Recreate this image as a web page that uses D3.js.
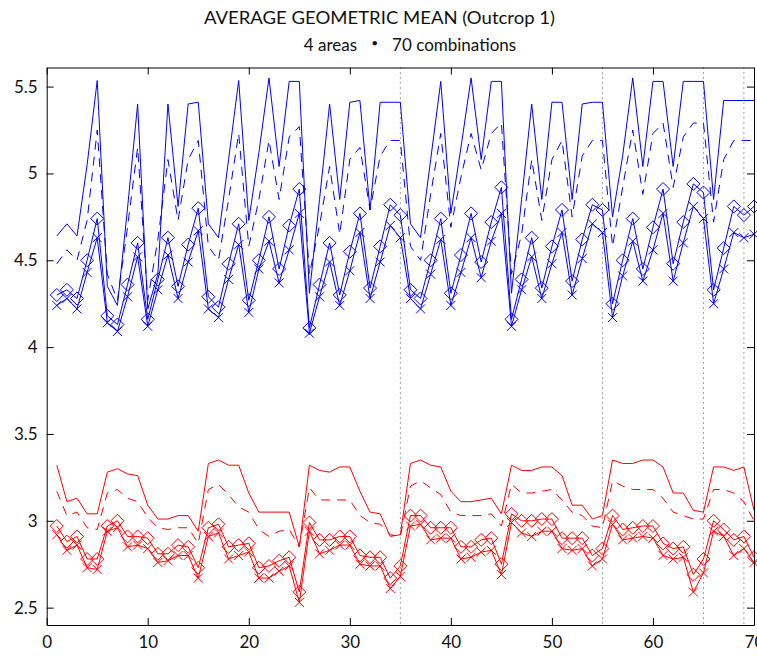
<!DOCTYPE html>
<html>
<head>
<meta charset="utf-8">
<script src="https://cdn.jsdelivr.net/npm/d3@7"></script>
<style>
  body { margin: 0; background: #fff; }
  svg { display: block; }
</style>
</head>
<body>
<svg id="chart" width="757" height="659"></svg>
<script>
// Combination index 1..70 (4 areas chosen out of 8)
const combos = d3.range(1, 71);

// Blue group
const blueSolid = [4.64,4.71,4.64,5.05,5.535,4.35,4.24,4.80,5.40,4.22,4.42,5.40,4.81,5.40,5.41,4.71,4.63,5.08,5.535,4.73,
  5.12,5.55,5.04,5.53,5.53,4.31,4.85,5.40,4.85,5.41,5.42,4.79,5.41,5.41,5.41,4.71,4.63,5.08,5.53,4.77,
  5.15,5.55,5.08,5.53,5.53,4.31,4.85,5.40,4.85,5.41,5.41,4.85,5.40,5.41,5.41,4.75,5.10,5.55,5.04,5.53,
  5.53,5.04,5.53,5.53,5.53,4.85,5.42,5.42,5.42,5.42];
const blueDash = [4.48,4.56,4.50,4.73,5.25,4.42,4.27,4.69,5.15,4.27,4.62,5.08,4.73,5.08,5.19,4.58,4.50,4.85,5.23,4.58,
  4.85,5.19,4.85,5.21,5.27,4.42,4.70,5.04,4.65,5.08,5.15,4.79,5.10,5.19,5.19,4.58,4.50,4.88,5.23,4.69,
  4.98,5.23,5.02,5.23,5.29,4.42,4.65,5.08,4.73,5.08,5.19,4.75,5.10,5.19,5.19,4.58,4.92,5.25,4.88,5.23,
  5.29,4.92,5.21,5.29,5.29,4.72,5.08,5.19,5.19,5.19];
const blueDiamond = [4.30,4.33,4.28,4.50,4.74,4.18,4.13,4.36,4.60,4.16,4.39,4.63,4.35,4.59,4.80,4.29,4.23,4.48,4.71,4.27,
  4.50,4.75,4.45,4.70,4.91,4.11,4.36,4.60,4.30,4.55,4.77,4.34,4.58,4.82,4.76,4.33,4.28,4.50,4.74,4.31,
  4.53,4.77,4.49,4.72,4.92,4.16,4.39,4.63,4.34,4.58,4.79,4.38,4.62,4.82,4.79,4.25,4.50,4.74,4.45,4.69,
  4.91,4.48,4.72,4.94,4.89,4.33,4.57,4.81,4.76,4.81];
const blueCross = [4.24,4.28,4.22,4.43,4.63,4.14,4.09,4.29,4.52,4.12,4.33,4.53,4.28,4.49,4.67,4.22,4.17,4.39,4.59,4.20,
  4.45,4.61,4.37,4.56,4.77,4.08,4.29,4.49,4.24,4.44,4.66,4.28,4.49,4.70,4.63,4.28,4.22,4.42,4.62,4.24,
  4.43,4.63,4.40,4.61,4.77,4.12,4.33,4.52,4.28,4.48,4.66,4.30,4.51,4.71,4.66,4.17,4.41,4.61,4.38,4.56,
  4.77,4.38,4.60,4.81,4.74,4.25,4.45,4.66,4.63,4.65];

// Red group
const redSolid = [3.32,3.11,3.13,3.04,3.04,3.28,3.30,3.27,3.26,3.09,3.01,3.01,3.03,3.03,2.94,3.33,3.35,3.32,3.32,3.16,
  3.05,3.05,3.05,3.05,2.85,3.32,3.29,3.28,3.31,3.31,3.17,3.05,3.04,2.91,2.92,3.33,3.35,3.32,3.31,3.17,
  3.11,3.11,3.12,3.13,3.04,3.32,3.29,3.29,3.31,3.31,3.26,3.09,3.09,3.01,3.03,3.35,3.33,3.33,3.35,3.35,
  3.31,3.16,3.16,3.06,3.05,3.31,3.31,3.29,3.31,3.06];
const redDash = [3.17,3.03,3.05,2.96,2.95,3.16,3.18,3.13,3.11,3.02,2.96,2.95,2.96,2.96,2.87,3.18,3.21,3.15,3.08,3.05,
  2.95,2.91,2.94,2.95,2.85,3.19,3.12,3.12,3.12,3.12,3.03,2.99,2.98,2.92,2.91,3.20,3.23,3.19,3.15,3.05,
  3.03,3.03,3.03,3.04,2.97,3.21,3.16,3.16,3.17,3.18,3.12,3.05,3.03,2.97,2.96,3.23,3.20,3.18,3.18,3.18,
  3.13,3.05,3.03,3.01,3.01,3.18,3.18,3.16,3.11,3.00];
const redDiamond = [2.97,2.88,2.91,2.78,2.78,2.97,3.00,2.91,2.91,2.90,2.81,2.81,2.86,2.85,2.73,2.96,2.98,2.85,2.86,2.87,
  2.73,2.74,2.77,2.79,2.59,2.99,2.89,2.89,2.91,2.91,2.80,2.79,2.79,2.67,2.74,3.03,3.03,2.96,2.96,2.96,
  2.85,2.85,2.89,2.90,2.75,3.04,3.00,3.00,3.01,3.01,2.90,2.90,2.90,2.80,2.84,3.03,2.95,2.96,2.97,2.97,
  2.87,2.84,2.85,2.69,2.78,3.00,2.95,2.89,2.91,2.79];
const redCross = [2.92,2.83,2.86,2.73,2.72,2.94,2.96,2.85,2.86,2.84,2.76,2.77,2.80,2.80,2.67,2.91,2.93,2.78,2.80,2.82,
  2.67,2.67,2.71,2.74,2.53,2.94,2.81,2.83,2.86,2.86,2.75,2.74,2.74,2.61,2.68,2.97,2.98,2.89,2.90,2.90,
  2.78,2.79,2.82,2.83,2.69,2.99,2.93,2.91,2.94,2.94,2.84,2.83,2.84,2.74,2.78,2.98,2.89,2.90,2.91,2.90,
  2.80,2.78,2.79,2.59,2.70,2.94,2.91,2.80,2.84,2.76];

// Boundaries between groups of combinations sharing the same first area
const groupBreaks = [35, 55, 65, 69];

const xTicks = [0, 10, 20, 30, 40, 50, 60, 70];
const yTicks = [2.5, 3, 3.5, 4, 4.5, 5, 5.5];

const titleMain = "AVERAGE GEOMETRIC MEAN (Outcrop 1)";
const subtitleParts = ["4 areas", "\u2022", "70 combinations"];

const BLUE = "#0000ff", RED = "#ff0000";
const DASH = "9,7";
const series = [
  { values: blueSolid,   color: BLUE, dash: null, marker: null },
  { values: blueDash,    color: BLUE, dash: DASH, marker: null },
  { values: blueDiamond, color: BLUE, dash: null, marker: "diamond" },
  { values: blueCross,   color: BLUE, dash: null, marker: "cross" },
  { values: redSolid,    color: RED,  dash: null, marker: null },
  { values: redDash,     color: RED,  dash: DASH, marker: null },
  { values: redDiamond,  color: RED,  dash: null, marker: "diamond" },
  { values: redCross,    color: RED,  dash: null, marker: "cross" }
];

const svg = d3.select("#chart");
const box = { left: 46.7, right: 754, top: 67.5, bottom: 625 };

const x = d3.scaleLinear().domain([0, 70]).range([box.left, box.right]);
const y = d3.scaleLinear().domain([2.4, 5.61]).range([box.bottom, box.top]);

const FONT = "Lato, 'Open Sans', sans-serif";

// Title, two lines
const gTitle = svg.append("g")
  .attr("font-family", FONT).attr("font-size", 17).attr("fill", "#111");
gTitle.append("text")
  .attr("x", 204).attr("y", 24)
  .attr("textLength", 351).attr("lengthAdjust", "spacingAndGlyphs")
  .text(titleMain);

// Second line: pieces laid out side by side, the bullet raised a little
const subParts = gTitle.selectAll("text.sub").data(subtitleParts).join("text")
  .attr("class", "sub")
  .attr("y", (d, i) => i === 1 ? 47 : 51)
  .attr("font-size", (d, i) => i === 1 ? 12 : 17)
  .text(d => d);
const widths = subParts.nodes().map(n => n.getComputedTextLength());
const gap = 14;
const total = d3.sum(widths) + gap * 2;
let cursor = 410 - total / 2;
subParts.each(function(d, i) {
  d3.select(this).attr("x", cursor);
  cursor += widths[i] + gap;
});

// Group boundary markers
svg.append("g").selectAll("line").data(groupBreaks).join("line")
  .attr("x1", d => x(d)).attr("x2", d => x(d))
  .attr("y1", box.top).attr("y2", box.bottom)
  .attr("stroke", "#444").attr("stroke-width", 1)
  .attr("stroke-dasharray", "1,4");

// Series lines and markers
const line = d3.line().x((d, i) => x(combos[i])).y(d => y(d));
const gSeries = svg.append("g").attr("fill", "none");
series.forEach(s => {
  gSeries.append("path")
    .attr("d", line(s.values))
    .attr("stroke", s.color).attr("stroke-width", 1)
    .attr("stroke-dasharray", s.dash);
  if (s.marker) {
    const r = s.marker === "diamond" ? 6.5 : 4.5;
    const shape = s.marker === "diamond"
      ? `M0,${-r}L${r},0L0,${r}L${-r},0Z`
      : `M${-r},${-r}L${r},${r}M${-r},${r}L${r},${-r}`;
    gSeries.append("g").selectAll("path").data(s.values).join("path")
      .attr("transform", (d, i) => `translate(${x(combos[i])},${y(d)})`)
      .attr("d", shape)
      .attr("stroke", s.color).attr("stroke-width", 1);
  }
});

// Axes (ticks pointing inward, mirrored on top and right)
const fmt = d3.format("~g");
function styleAxis(g) {
  g.selectAll("path.domain").attr("stroke", "#000");
  g.selectAll(".tick line").attr("stroke", "#000");
  g.selectAll("text").attr("font-family", FONT).attr("font-size", 17).attr("fill", "#111");
}
svg.append("g").attr("transform", `translate(0,${box.bottom})`)
  .call(d3.axisBottom(x).tickValues(xTicks).tickFormat(fmt).tickSize(-7).tickSizeOuter(0).tickPadding(11))
  .call(styleAxis);
svg.append("g").attr("transform", `translate(0,${box.top})`)
  .call(d3.axisTop(x).tickValues(xTicks).tickFormat("").tickSize(-7).tickSizeOuter(0))
  .call(styleAxis);
svg.append("g").attr("transform", `translate(${box.left},0)`)
  .call(d3.axisLeft(y).tickValues(yTicks).tickFormat(fmt).tickSize(-7).tickSizeOuter(0).tickPadding(9))
  .call(styleAxis);
svg.append("g").attr("transform", `translate(${box.right},0)`)
  .call(d3.axisRight(y).tickValues(yTicks).tickFormat("").tickSize(-7).tickSizeOuter(0))
  .call(styleAxis);
</script>
</body>
</html>
